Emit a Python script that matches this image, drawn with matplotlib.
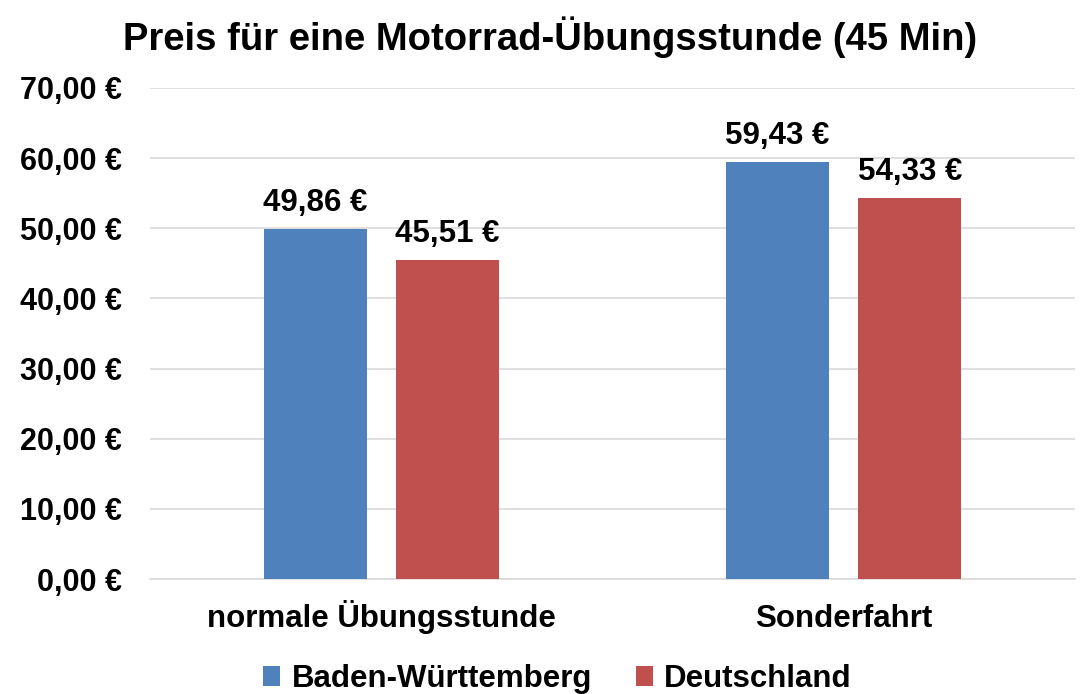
import numpy as np
import matplotlib.pyplot as plt
from matplotlib.ticker import FuncFormatter

plt.rcParams['font.family'] = ['Liberation Sans', 'DejaVu Sans']
plt.rcParams['font.weight'] = 'bold'

categories = ['normale Übungsstunde', 'Sonderfahrt']
series_names = ['Baden-Württemberg', 'Deutschland']
bw_values = [49.86, 59.43]
de_values = [45.51, 54.33]
colors = ['#4F81BD', '#C0504D']


def euro(v):
    return f"{v:,.2f} €".replace(',', 'X').replace('.', ',').replace('X', '.')


fig = plt.figure(figsize=(10.8, 6.94), dpi=100)
ax = fig.add_axes([150 / 1080, 1 - 579 / 694, 925 / 1080, (579 - 88) / 694])

x = np.arange(len(categories))
width = 0.223
offset = 0.143
bars1 = ax.bar(x - offset, bw_values, width, color=colors[0], label=series_names[0], zorder=3)
bars2 = ax.bar(x + offset, de_values, width, color=colors[1], label=series_names[1], zorder=3)

# value labels, baseline ~18 px above bar top
for bars in (bars1, bars2):
    for b in bars:
        ax.annotate(euro(b.get_height()), (b.get_x() + b.get_width() / 2, b.get_height()),
                    xytext=(0, 13), textcoords='offset points', ha='center', va='baseline',
                    fontsize=22.5, fontweight='bold')

ax.set_xlim(-0.5, 1.5)
ax.set_ylim(0, 70)
ax.set_yticks(np.arange(0, 71, 10))
ax.yaxis.set_major_formatter(FuncFormatter(lambda v, p: euro(v)))
ax.set_xticks(x)
ax.set_xticklabels(categories)
ax.tick_params(axis='x', length=0, labelsize=22.5, pad=34.5)
ax.tick_params(axis='y', length=0, labelsize=22, pad=20)
for lab in ax.get_xticklabels():
    lab.set_fontweight('bold')
    lab.set_va('baseline')
for lab in ax.get_yticklabels():
    lab.set_fontweight('bold')

ax.grid(axis='y', color='#D9D9D9', linewidth=1.2, zorder=0)
for s in ['top', 'right', 'left']:
    ax.spines[s].set_visible(False)
ax.spines['bottom'].set_color('#D9D9D9')
ax.spines['bottom'].set_linewidth(1.2)

fig.text(550 / 1080, 1 - 37 / 694, 'Preis für eine Motorrad-Übungsstunde (45 Min)',
         fontsize=27.5, fontweight='bold', ha='center', va='center')

fig.legend(loc='center', bbox_to_anchor=(0.516, 1 - 679 / 694), ncol=2, frameon=False,
           fontsize=22.5, handlelength=0.55, handleheight=0.6, columnspacing=1.4, handletextpad=0.35)

plt.savefig('out.png', dpi=100)
